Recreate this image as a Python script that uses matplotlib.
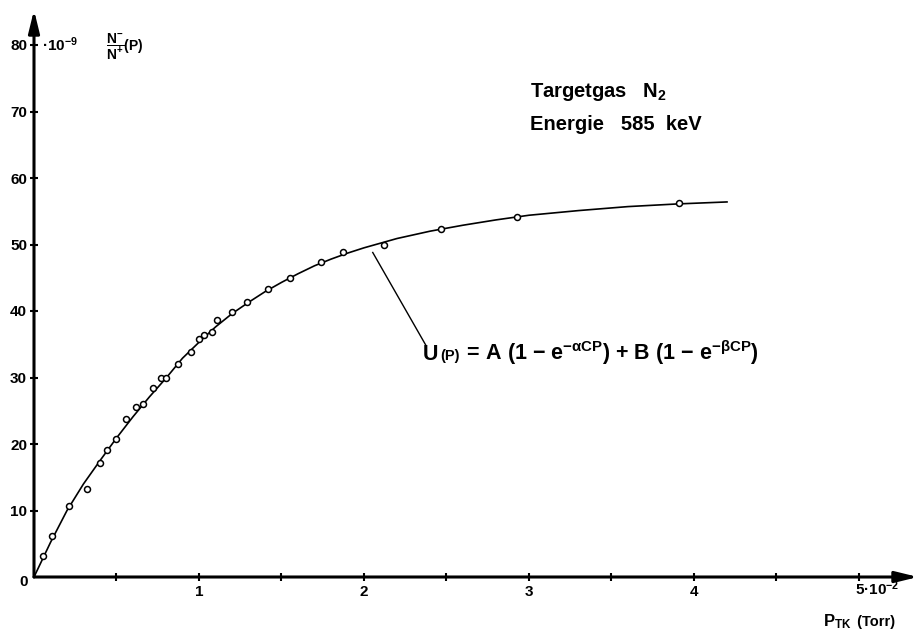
import matplotlib.pyplot as plt
from matplotlib.offsetbox import TextArea, HPacker, AnnotationBbox

# measured points: target pressure (10^-2 Torr) and charge-state ratio (10^-9)
p_meas = [0.055, 0.11, 0.21, 0.32, 0.40, 0.44, 0.50, 0.56, 0.62, 0.66, 0.72, 0.77,
          0.80, 0.875, 0.95, 1.00, 1.03, 1.08, 1.11, 1.20, 1.29, 1.42, 1.55, 1.74,
          1.875, 2.12, 2.465, 2.93, 3.91]
u_meas = [3.2, 6.2, 10.7, 13.2, 17.1, 19.1, 20.8, 23.7, 25.5, 26.0, 28.4, 30.0,
          29.9, 32.1, 33.8, 35.8, 36.4, 36.9, 38.6, 39.8, 41.4, 43.3, 44.9, 47.3,
          48.8, 50.0, 52.4, 54.2, 56.2]

# fitted curve U(P)
p_fit = [0, 0.1, 0.2, 0.3, 0.4, 0.5, 0.6, 0.7, 0.8, 0.9, 1.0, 1.1, 1.2, 1.3, 1.4,
         1.5, 1.6, 1.7, 1.8, 1.9, 2.0, 2.2, 2.4, 2.6, 2.8, 3.0, 3.3, 3.6, 3.9, 4.2]
u_fit = [0, 5.2, 10.0, 14.0, 17.5, 20.9, 24.1, 27.1, 29.9, 32.9, 35.3, 37.6, 39.6,
         41.3, 42.9, 44.3, 45.6, 46.8, 47.8, 48.7, 49.5, 50.9, 52.0, 52.9, 53.7,
         54.4, 55.1, 55.7, 56.1, 56.4]

x_ticks = [0.5, 1, 1.5, 2, 2.5, 3, 3.5, 4, 4.5, 5]
x_labels = ['', '1', '', '2', '', '3', '', '4', '', '']
y_ticks = [10, 20, 30, 40, 50, 60, 70, 80]

plt.rcParams['font.family'] = ['Liberation Sans', 'DejaVu Sans']
plt.rcParams['font.weight'] = 'bold'
plt.rcParams['mathtext.fontset'] = 'custom'
plt.rcParams['mathtext.rm'] = 'Liberation Sans:bold'
plt.rcParams['mathtext.it'] = 'Liberation Sans:bold'
plt.rcParams['mathtext.bf'] = 'Liberation Sans:bold'
plt.rcParams['mathtext.sf'] = 'Liberation Sans:bold'
plt.rcParams['mathtext.default'] = 'rm'

W, H = 920, 633
fig = plt.figure(figsize=(W / 100, H / 100), dpi=100)
ox, oy = 34, 577          # origin in pixels
sx, sy = 165, 6.65        # pixels per unit
ax = fig.add_axes([ox / W, (H - oy) / H, (918 - ox) / W, (oy - 10) / H])
ax.set_xlim(0, (918 - ox) / sx)
ax.set_ylim(0, (oy - 10) / sy)
for s in ax.spines.values():
    s.set_visible(False)


def px(x, y):
    return x / W, 1 - y / H


# axes with arrow heads
arrow = dict(arrowstyle='-|>,head_length=0.9,head_width=0.22', lw=2.2, color='black',
             shrinkA=0, shrinkB=0, mutation_scale=15)
ax.annotate('', xy=(1, 0), xytext=(0, 0), xycoords='axes fraction', arrowprops=arrow)
ax.annotate('', xy=(0, 1), xytext=(0, 0), xycoords='axes fraction', arrowprops=arrow)

ax.set_xticks(x_ticks, x_labels)
ax.set_yticks(y_ticks, [str(v) for v in y_ticks])
ax.tick_params(direction='inout', length=6, width=1.5, labelsize=11, pad=2)
ax.tick_params(axis='x', pad=3)

ax.plot(p_fit, u_fit, color='black', lw=1.2, zorder=3)
ax.plot(p_meas, u_meas, 'o', ms=4.3, mfc='white', mec='black', mew=1.1, zorder=4)

# pointer from the curve to the formula
ax.plot([2.053, 2.376], [48.8, 34.8], color='black', lw=1.0)

fig.text(*px(24, 582), '0', fontsize=11, ha='center', va='center')
fig.text(*px(855, 589), '5·10$^{-2}$', fontsize=11, ha='left', va='center')
fig.text(*px(42, 45), '·10$^{-9}$', fontsize=11, ha='left', va='center')
fig.text(*px(106, 47), r'$\dfrac{N^{-}}{N^{+}}$(P)', fontsize=10, ha='left', va='center')

fig.text(*px(530, 97), 'Targetgas   N$_2$', fontsize=14.5, ha='left', va='baseline')
fig.text(*px(530, 130), 'Energie   585  keV', fontsize=14.5, ha='left', va='baseline')


def chain(pieces, x, y):
    box = HPacker(children=[TextArea(t, textprops=dict(size=s, weight='bold'))
                            for t, s in pieces],
                  align='baseline', pad=0, sep=1)
    fig.add_artist(AnnotationBbox(box, px(x, y), xycoords='figure fraction',
                                  frameon=False, box_alignment=(0, 0), pad=0))


chain([('U', 15.5), ('(P)', 10.5),
       (' = A (1 − e$^{−αCP}$) + B (1 − e$^{−βCP}$)', 15.5)], 423, 367)
chain([('P$_{TK}$', 12), (' (Torr)', 10.5)], 823, 631)

fig.savefig('out.png', dpi=100)
